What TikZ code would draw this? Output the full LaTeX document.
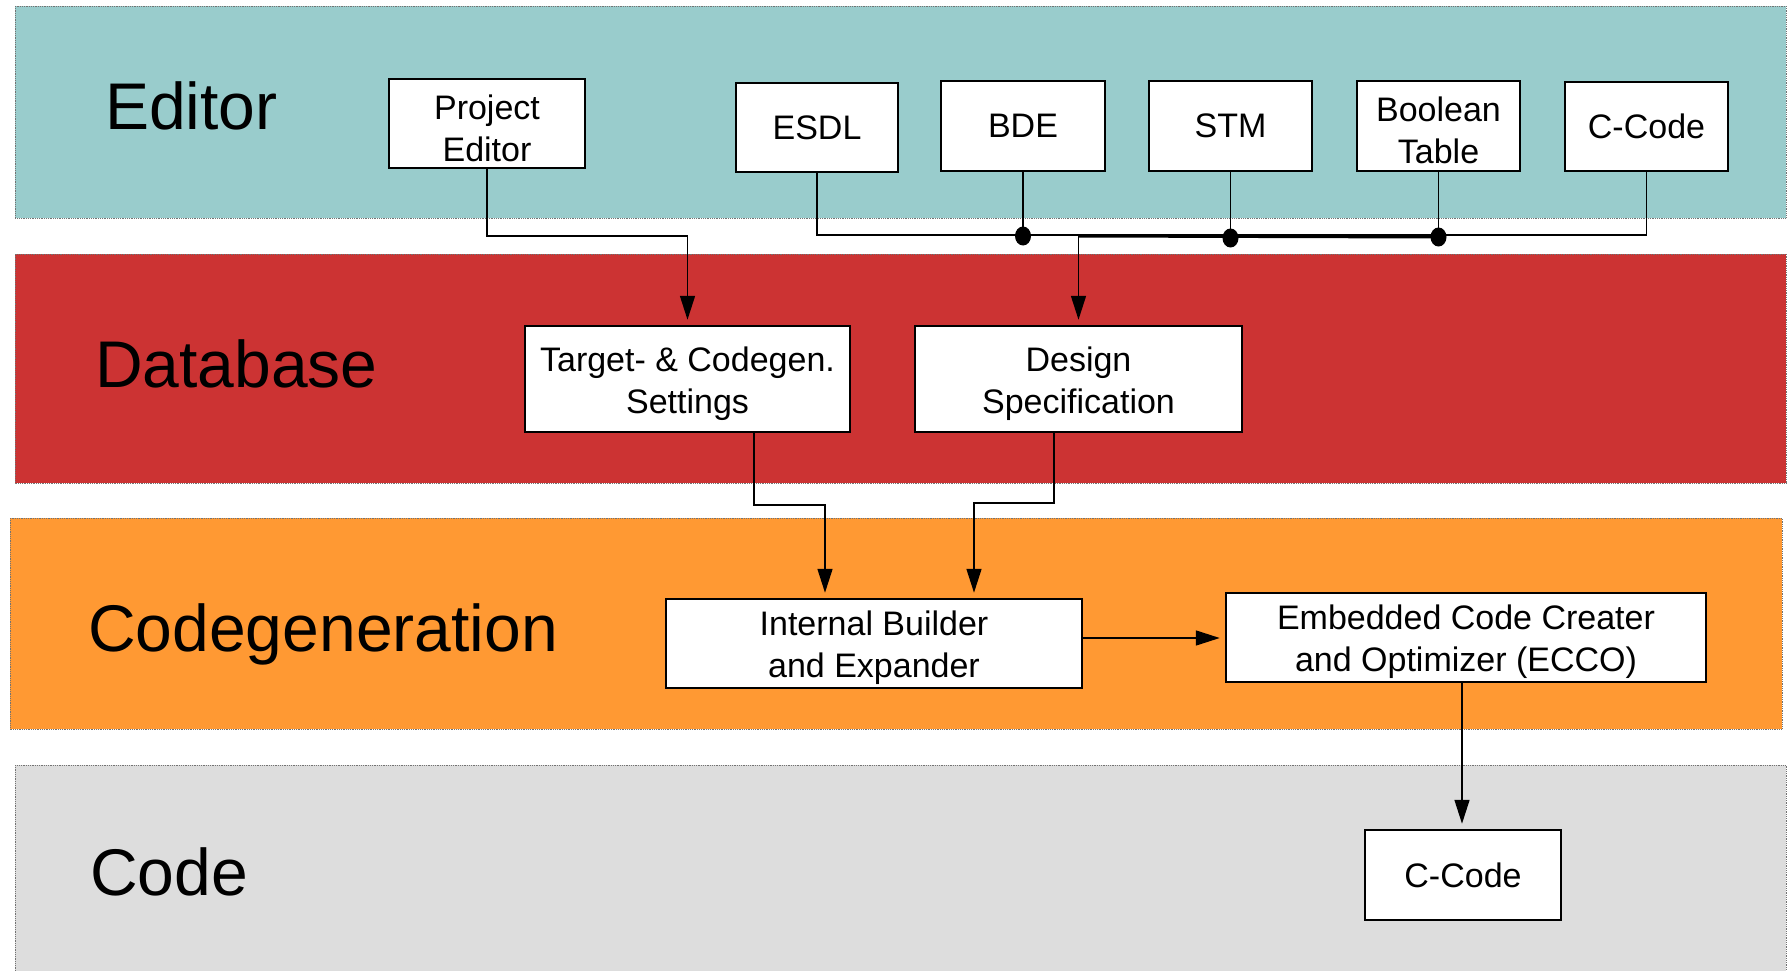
\documentclass[tikz,border=0pt]{standalone}
\usepackage{fontspec}
\setmainfont{Liberation Sans}
\usetikzlibrary{arrows.meta,calc}
\definecolor{bandteal}{RGB}{153,204,204}
\definecolor{bandred}{RGB}{204,51,51}
\definecolor{bandorange}{RGB}{255,153,51}
\definecolor{bandgrey}{RGB}{221,221,221}
\newcommand{\lowstrut}{\rule{0pt}{34pt}}
\tikzset{
  band/.style={draw=black!55, line width=0.8pt, densely dotted},
  bandlabel/.style={anchor=base west, inner sep=0pt, font=\fontsize{66}{70}\selectfont},
  blk/.style={draw, fill=white, line width=2.5pt, inner sep=0pt, align=center,
              font=\fontsize{34}{42}\selectfont},
  conn/.style={line width=1.6pt},
  arr/.style={conn, -{Triangle[length=24pt,width=15pt]}, shorten >=5pt},
  dotpt/.style={ellipse, fill=black, inner sep=0pt, minimum width=16pt, minimum height=19pt}
}
\usetikzlibrary{shapes.geometric}
\begin{document}
\begin{tikzpicture}[x=1pt,y=-1pt]
\useasboundingbox (0,0) rectangle (1792,971);
% bands
\fill[bandteal] (15,6) rectangle (1786,218);
\draw[band] (15,6) rectangle (1786,218);
\fill[bandred] (15,254) rectangle (1786,483);
\draw[band] (15,254) rectangle (1786,483);
\fill[bandorange] (10,518) rectangle (1782,729);
\draw[band] (10,518) rectangle (1782,729);
\fill[bandgrey] (15,765) rectangle (1786,980);
\draw[band] (15,765) rectangle (1786,980);
% band labels
\node[bandlabel] (lEditor) at (105,130) {Editor};
\node[bandlabel] (lDatabase) at (95,387) {Database};
\node[bandlabel] (lCodegen) at (88,651) {Codegeneration};
\node[bandlabel] (lCode) at (90,895) {Code};
% editor boxes
\node[blk, minimum width=196pt, minimum height=89pt] (pe) at (487,123.5) {\lowstrut Project\\Editor};
\node[blk, minimum width=162pt, minimum height=89pt] (esdl) at (817,127.5) {ESDL};
\node[blk, minimum width=164pt, minimum height=90pt] (bde) at (1023,126) {BDE};
\node[blk, minimum width=163pt, minimum height=90pt] (stm) at (1230.5,126) {STM};
\node[blk, minimum width=163pt, minimum height=90pt] (bool) at (1438.5,126) {\lowstrut Boolean\\Table};
\node[blk, minimum width=163pt, minimum height=89pt] (cc1) at (1646.5,126.5) {C-Code};
% database boxes
\node[blk, minimum width=325pt, minimum height=106pt] (tgt) at (687.5,379) {\lowstrut Target- \& Codegen.\\Settings};
\node[blk, minimum width=327pt, minimum height=106pt] (ds) at (1078.5,379) {\lowstrut Design\\Specification};
% codegen boxes
\node[blk, minimum width=416pt, minimum height=89pt] (ib) at (874,643.5) {\lowstrut Internal Builder\\and Expander};
\node[blk, minimum width=480pt, minimum height=89pt] (ecco) at (1466,637.5) {\lowstrut Embedded Code Creater\\and Optimizer (ECCO)};
% code box
\node[blk, minimum width=196pt, minimum height=90pt] (cc2) at (1463,875) {C-Code};
% bus
\coordinate (busL) at (esdl.south |- 0,235);
\coordinate (busR) at (cc1.south |- 0,235);
\coordinate (jds) at (ds.north |- 0,236);
\draw[conn] (esdl.south) -- (busL) -- (busR) -- (cc1.south);
\node[dotpt] (d1) at (bde.south |- 0,236) {};
\node[dotpt] (d2) at (stm.south |- 0,238) {};
\node[dotpt] (d3) at (bool.south |- 0,237) {};
\draw[conn] (bde.south) -- (d1.center);
\draw[conn] (stm.south) -- (d2.center);
\draw[conn] (bool.south) -- (d3.center);
\draw[line width=3pt] (jds) -- (d3.center);
\draw[arr] (jds) -- (ds.north);
% project editor to target
\draw[arr] (pe.south) -- (pe.south |- 0,236) -| (tgt.north);
% database to internal builder
\draw[arr] ([xshift=66.5pt]tgt.south) -- ++(0,72) -| ([xshift=-49pt]ib.north);
\draw[arr] ([xshift=-24.5pt]ds.south) -- ++(0,70) -| ([xshift=100pt]ib.north);
% ib to ecco
\draw[arr] (ib.east |- 0,638) -- (ecco.west |- 0,638);
% ecco to code
\draw[arr] ([xshift=-4pt]ecco.south) -- ([xshift=-1pt]cc2.north);
\end{tikzpicture}
\end{document}
